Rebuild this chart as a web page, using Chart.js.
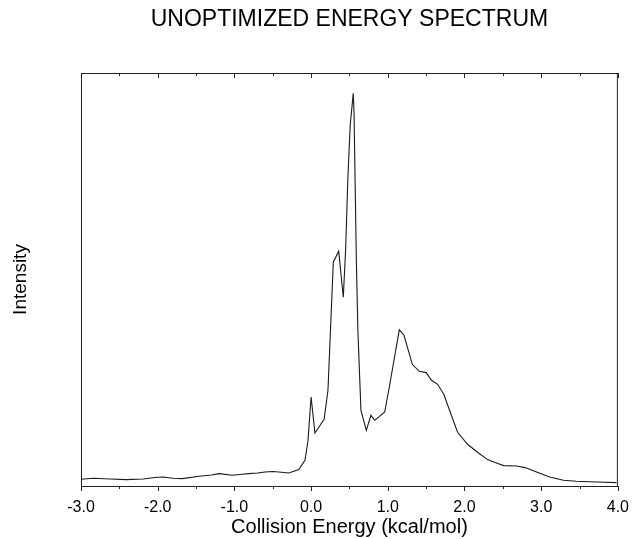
<!DOCTYPE html>
<html>
<head>
<meta charset="utf-8">
<title>Unoptimized Energy Spectrum</title>
<script src="https://cdn.jsdelivr.net/npm/chart.js@4/dist/chart.umd.min.js"></script>
<style>
  html, body { margin: 0; padding: 0; background: #fff; }
  canvas { display: block; }
</style>
</head>
<body>
<canvas id="spectrumChart" width="636" height="539"></canvas>
<script>
// Collision energy (kcal/mol)
const energy = [
  -3.00, -2.84, -2.62, -2.41, -2.19, -2.04, -1.93, -1.80, -1.68, -1.46,
  -1.30, -1.20, -1.03, -0.90, -0.81, -0.70, -0.60, -0.50, -0.42, -0.29,
  -0.16, -0.08, -0.04, 0.00, 0.05, 0.17, 0.22, 0.29, 0.36, 0.42,
  0.45, 0.48, 0.51, 0.55, 0.56, 0.59, 0.61, 0.65, 0.72, 0.78,
  0.83, 0.96, 1.02, 1.15, 1.21, 1.32, 1.41, 1.50, 1.57, 1.65,
  1.73, 1.81, 1.91, 2.04, 2.17, 2.30, 2.40, 2.51, 2.68, 2.79,
  2.94, 3.11, 3.29, 3.46, 3.72, 3.98,
];

// Intensity (arbitrary units)
const intensity = [
  6.7, 7.7, 7.0, 6.4, 7.0, 8.5, 9.0, 7.8, 7.4, 9.7,
  11.0, 12.4, 10.7, 11.8, 12.4, 13.0, 14.0, 14.5, 14.0, 13.0,
  16.4, 25.7, 45.7, 89, 53, 66.7, 95.7, 224, 234.7, 188.7,
  235.7, 308.7, 360.7, 392.7, 372.7, 225.7, 155.7, 75.7, 55.7, 70.7,
  65.7, 74, 99, 156.2, 151, 121.7, 114.7, 113.4, 105.7, 101.7,
  91.7, 74.7, 53.7, 41.7, 33.7, 26.4, 23.4, 20.4, 20, 18.4,
  14, 9, 5.7, 4.7, 4, 3.4,
];

const xMin = -3.0;
const xMax = 4.0;
const yMax = 413;

const FONT = '"Liberation Sans", Arial, Helvetica, sans-serif';
const AXIS_COLOR = "#222";

// Frame (top + right) and the tick marks, placed with the chart's own scales
const framePlugin = {
  id: "frame",
  afterDraw(chart) {
    const { ctx, chartArea } = chart;
    const xs = chart.scales.x;
    ctx.save();
    ctx.strokeStyle = AXIS_COLOR;
    ctx.lineWidth = 1;
    ctx.beginPath();
    ctx.moveTo(chartArea.left, chartArea.top + 0.5);
    ctx.lineTo(chartArea.right, chartArea.top + 0.5);
    ctx.moveTo(chartArea.right - 0.5, chartArea.top);
    ctx.lineTo(chartArea.right - 0.5, chartArea.bottom);
    ctx.stroke();

    ctx.beginPath();
    for (let v = xMin; v <= xMax + 1e-9; v += 0.5) {
      const px = Math.round(xs.getPixelForValue(v)) + 0.5;
      const major = Math.abs(v - Math.round(v)) < 1e-6;
      // bottom ticks point outward
      ctx.moveTo(px, chartArea.bottom);
      ctx.lineTo(px, chartArea.bottom + (major ? 5 : 3));
      // top ticks point inward
      ctx.moveTo(px, chartArea.top);
      ctx.lineTo(px, chartArea.top + (major ? 5 : 3));
    }
    ctx.stroke();
    ctx.restore();
  },
};

const ctx = document.getElementById("spectrumChart").getContext("2d");
new Chart(ctx, {
  type: "line",
  data: {
    datasets: [
      {
        data: energy.map((e, i) => ({ x: e, y: intensity[i] })),
        borderColor: "#1a1a1a",
        borderWidth: 1.1,
        pointRadius: 0,
        tension: 0,
        fill: false,
      },
    ],
  },
  options: {
    responsive: false,
    animation: false,
    layout: { padding: { left: 0, right: 14, top: 0, bottom: 0 } },
    plugins: {
      legend: { display: false },
      tooltip: { enabled: false },
      title: {
        display: true,
        fullSize: false,
        text: "UNOPTIMIZED ENERGY SPECTRUM",
        color: "#000",
        font: { family: FONT, size: 23, weight: "normal" },
        padding: { top: 6, bottom: 39.4 },
      },
    },
    scales: {
      x: {
        type: "linear",
        min: xMin,
        max: xMax,
        grid: { display: false, drawOnChartArea: false, drawTicks: true, tickLength: 5 },
        border: { display: true, color: AXIS_COLOR, width: 1 },
        ticks: {
          stepSize: 1,
          autoSkip: false,
          maxRotation: 0,
          padding: 7,
          color: "#000",
          font: { family: FONT, size: 16 },
          callback: (v) => Number(v).toFixed(1),
        },
        title: {
          display: true,
          text: "Collision Energy (kcal/mol)",
          color: "#000",
          font: { family: FONT, size: 20 },
          padding: { top: 0, bottom: 0 },
        },
        afterFit(scale) {
          scale.height = 53;
        },
      },
      y: {
        min: 0,
        max: yMax,
        grid: { display: false },
        border: { display: true, color: AXIS_COLOR, width: 1 },
        ticks: { display: false },
        title: {
          display: true,
          text: "Intensity",
          color: "#000",
          font: { family: FONT, size: 19 },
          padding: { top: 9, bottom: 0 },
        },
        afterFit(scale) {
          scale.width = 81;
        },
      },
    },
  },
  plugins: [framePlugin],
});
</script>
</body>
</html>
